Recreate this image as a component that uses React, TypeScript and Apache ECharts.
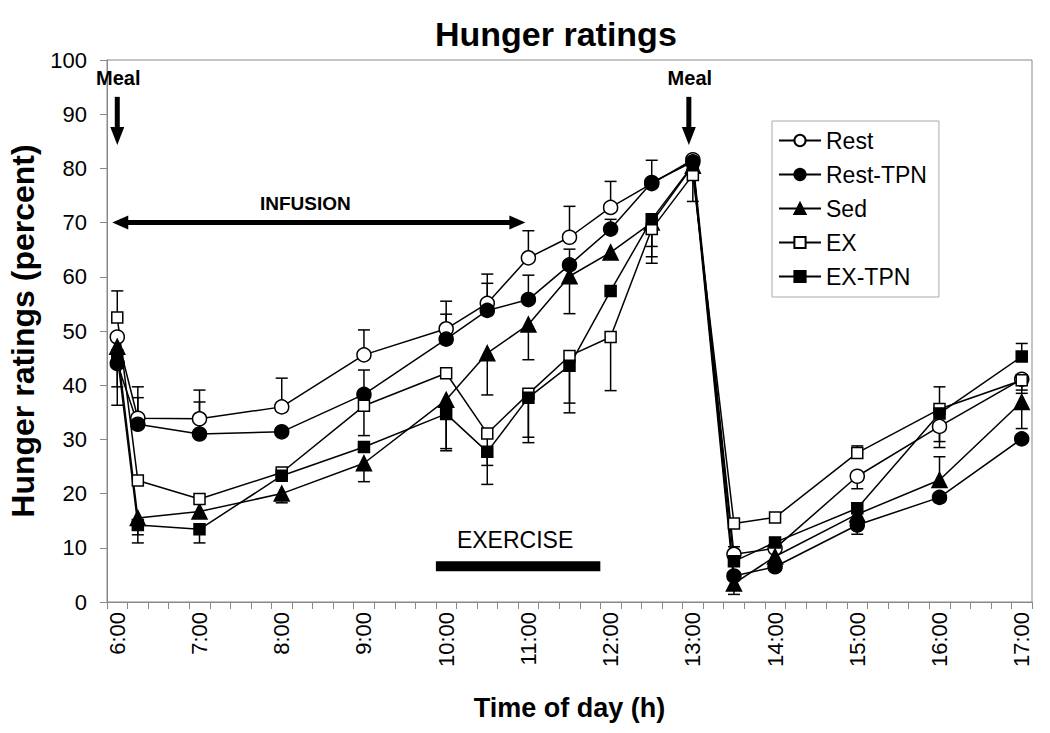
import React, { useEffect, useRef } from "react";
import * as echarts from "echarts";

// 15-minute category slots from 6:00 to 17:00
const hours = [6, 7, 8, 9, 10, 11, 12, 13, 14, 15, 16, 17];
const quarters = ["00", "15", "30", "45"];
const categories: string[] = [];
hours.forEach((h) => quarters.forEach((q) => { if (h < 17 || q === "00") categories.push(`${h}:${q}`); }));

const times = ["6:00", "6:15", "7:00", "8:00", "9:00", "10:00", "10:30", "11:00", "11:30", "12:00", "12:30", "13:00", "13:30", "14:00", "15:00", "16:00", "17:00"];

const rest = [48.9, 33.9, 33.8, 36.0, 45.6, 50.4, 55.1, 63.5, 67.3, 72.8, 77.2, 81.6, 8.8, 9.9, 23.2, 32.4, 41.1];
const restTPN = [44.0, 32.8, 31.0, 31.4, 38.3, 48.5, 53.8, 55.8, 62.2, 68.8, 77.4, 81.2, 4.8, 6.5, 14.2, 19.3, 30.1];
const sed = [47.1, 15.5, 16.7, 20.0, 25.6, 37.3, 45.9, 51.2, 60.1, 64.5, 70.0, 80.5, 3.4, 8.4, 16.2, 22.5, 36.9];
const ex = [52.5, 22.4, 19.0, 23.9, 36.2, 42.2, 31.1, 38.4, 45.4, 48.9, 68.8, 78.8, 14.5, 15.6, 27.5, 35.6, 40.9];
const exTPN = [45.5, 14.2, 13.4, 23.3, 28.6, 34.7, 27.7, 37.7, 43.6, 57.4, 70.6, 80.6, 7.5, 11.0, 17.3, 34.8, 45.3];

// signed error bars (+ drawn upward, - drawn downward, 0 none)
const restErr = [0, 5.8, 5.3, 5.3, 4.6, 5.1, 5.4, 5.0, 5.7, 4.8, 0, 0, 1.4, 0, -2.3, -2.8, -2.0];
const restTPNErr = [-7.7, 4.9, 5.9, 0, 4.5, 4.6, 5.0, 4.5, 2.9, 1.8, 4.1, 0, 0, 0, -1.7, 0, 0];
const sedErr = [0, -3.1, 0, -1.7, -3.4, -9.4, -7.7, -6.5, -6.9, 0, -4.4, 0, -2.0, 0, 0, 4.3, -4.9];
const exErr = [4.9, 0, 0, 0, -5.5, 0, -5.9, -8.0, -8.7, -9.9, -6.3, -4.9, 0, 0, 1.3, 4.1, -2.4];
const exTPNErr = [-5.8, -3.3, -2.5, 0, 0, -6.4, -6.0, -8.3, -8.7, 0, -6.9, 0, 1.8, 0, 0, -6.3, 2.4];

const FONT = "'Liberation Sans', Arial, sans-serif";

type Def = { name: string; values: number[]; errs: number[]; symbol: string; size: number; filled: boolean };
const defs: Def[] = [
  { name: "Rest", values: rest, errs: restErr, symbol: "circle", size: 14, filled: false },
  { name: "Rest-TPN", values: restTPN, errs: restTPNErr, symbol: "circle", size: 14, filled: true },
  { name: "Sed", values: sed, errs: sedErr, symbol: "triangle", size: 15, filled: true },
  { name: "EX", values: ex, errs: exErr, symbol: "rect", size: 11, filled: false },
  { name: "EX-TPN", values: exTPN, errs: exTPNErr, symbol: "rect", size: 11, filled: true },
];

export default function App() {
  const ref = useRef<HTMLDivElement>(null);
  useEffect(() => {
    if (!ref.current) return;
    const chart = echarts.init(ref.current, null, { renderer: "svg" });
    const idx = (t: string) => categories.indexOf(t);

    const lineSeries = defs.map((d) => ({
      name: d.name,
      type: "line",
      data: times.map((t, i) => [idx(t), d.values[i]]),
      symbol: d.symbol,
      symbolSize: d.size,
      showSymbol: true,
      showAllSymbol: true,
      lineStyle: { color: "#000", width: 1.5 },
      itemStyle: { color: d.filled ? "#000" : "#fff", borderColor: "#000", borderWidth: 1.5 },
      z: 3,
    }));

    const errSeries = defs.map((d) => ({
      name: d.name + " err",
      type: "custom",
      z: 2,
      silent: true,
      data: times.map((t, i) => [idx(t), d.values[i], d.errs[i]]).filter((r) => r[2] !== 0),
      encode: { x: 0, y: 1 },
      renderItem: (params: any, api: any) => {
        const x = api.value(0);
        const y = api.value(1);
        const e = api.value(2);
        const p0 = api.coord([x, y]);
        const p1 = api.coord([x, y + e]);
        const st = { stroke: "#000", lineWidth: 1.5 };
        return {
          type: "group",
          children: [
            { type: "line", shape: { x1: p0[0], y1: p0[1], x2: p1[0], y2: p1[1] }, style: st },
            { type: "line", shape: { x1: p1[0] - 6, y1: p1[1], x2: p1[0] + 6, y2: p1[1] }, style: st },
          ],
        };
      },
    }));

    chart.setOption({
      animation: false,
      backgroundColor: "#fff",
      textStyle: { fontFamily: FONT },
      title: {
        text: "Hunger ratings",
        left: 430,
        top: 12,
        textStyle: { fontFamily: FONT, fontSize: 34, fontWeight: "bold", color: "#000" },
      },
      legend: {
        orient: "vertical",
        left: 772,
        top: 121,
        data: defs.map((d) => d.name),
        itemWidth: 42,
        itemHeight: 14,
        itemGap: 11,
        padding: [8, 12, 9, 6],
        borderColor: "#aaa",
        borderWidth: 1,
        backgroundColor: "#fff",
        textStyle: { fontFamily: FONT, fontSize: 23, color: "#000", lineHeight: 22 },
      },
      grid: {
        left: 107, right: 18, top: 60, bottom: 131,
        show: true, borderColor: "#888", borderWidth: 1,
        outerBoundsMode: "none", containLabel: false,
      },
      xAxis: {
        type: "category",
        data: categories,
        boundaryGap: true,
        name: "Time of day (h)",
        nameLocation: "middle",
        nameGap: 92,
        nameTextStyle: { fontFamily: FONT, fontSize: 27, fontWeight: "bold", color: "#000" },
        axisLine: { lineStyle: { color: "#888" } },
        axisTick: { show: true, interval: 0, length: 7, lineStyle: { color: "#888" } },
        axisLabel: { interval: 3, rotate: 90, fontSize: 22, color: "#000", margin: 10, fontFamily: FONT },
        splitLine: { show: false },
      },
      yAxis: {
        type: "value",
        min: 0,
        max: 100,
        interval: 10,
        name: "Hunger ratings (percent)",
        nameLocation: "middle",
        nameRotate: 90,
        nameGap: 64,
        nameTextStyle: { fontFamily: FONT, fontSize: 32, fontWeight: "bold", color: "#000" },
        axisLine: { show: true, lineStyle: { color: "#888" } },
        axisTick: { show: true, length: 7, lineStyle: { color: "#888" } },
        axisLabel: { fontSize: 22, color: "#000", margin: 20, fontFamily: FONT },
        splitLine: { show: false },
      },
      series: [...errSeries, ...lineSeries],
    });

    // annotations positioned via the chart's own scales
    const px = (cat: string, v: number) => chart.convertToPixel({ xAxisIndex: 0, yAxisIndex: 0 }, [idx(cat), v]) as number[];
    const bw = px("6:15", 0)[0] - px("6:00", 0)[0];
    const black = { fill: "#000" };

    const mealArrow = (cat: string, dx: number) => {
      const top = px(cat, 93.2);
      const tip = px(cat, 84.3);
      const x = top[0] + dx;
      return [
        { type: "text", style: { text: "Meal", x: x + 1, y: px(cat, 96.6)[1], align: "center", verticalAlign: "middle", font: `bold 20px ${FONT}`, fill: "#000" } },
        { type: "rect", shape: { x: x - 2.5, y: top[1], width: 5, height: tip[1] - top[1] - 16 }, style: black },
        { type: "polygon", shape: { points: [[x - 7, tip[1] - 18], [x + 7, tip[1] - 18], [x, tip[1]]] }, style: black },
      ];
    };

    const infL = px("6:00", 70);
    const infR = px("11:00", 70);
    const lx = infL[0] - 5;
    const rx = infR[0] - 3;
    const iy = infL[1];
    const infusion = [
      { type: "rect", shape: { x: lx + 14, y: iy - 2.5, width: rx - lx - 28, height: 5 }, style: black },
      { type: "polygon", shape: { points: [[lx, iy], [lx + 16, iy - 7], [lx + 16, iy + 7]] }, style: black },
      { type: "polygon", shape: { points: [[rx, iy], [rx - 16, iy - 7], [rx - 16, iy + 7]] }, style: black },
      { type: "text", style: { text: "INFUSION", x: px("8:15", 0)[0] + 3, y: px("8:15", 73.6)[1], align: "center", verticalAlign: "middle", font: `bold 19px ${FONT}`, fill: "#000" } },
    ];

    const exL = px("10:00", 6.6)[0] - bw / 2;
    const exR = px("11:45", 6.6)[0] + bw / 2;
    const ey = px("10:00", 6.6)[1];
    const exercise = [
      { type: "rect", shape: { x: exL, y: ey - 5, width: exR - exL, height: 10 }, style: black },
      { type: "text", style: { text: "EXERCISE", x: (exL + exR) / 2 - 3, y: px("10:00", 11.4)[1], align: "center", verticalAlign: "middle", font: `23px ${FONT}`, fill: "#000" } },
    ];

    chart.setOption({
      graphic: [...mealArrow("6:00", 0), ...mealArrow("13:00", -4), ...infusion, ...exercise].map((g: any) => ({ ...g, z: 10 })),
    });

    return () => chart.dispose();
  }, []);
  return <div ref={ref} style={{ width: 1050, height: 733, position: "absolute", left: 0, top: 0 }} />;
}
